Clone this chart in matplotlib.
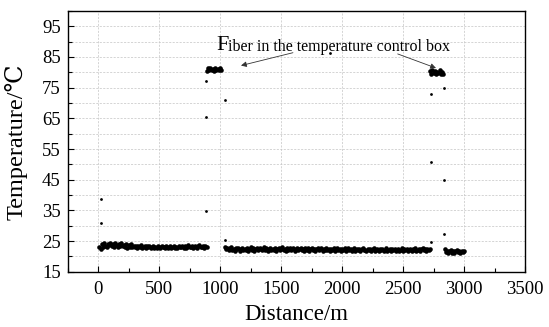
import numpy as np
import matplotlib.pyplot as plt
from matplotlib.ticker import MultipleLocator

# DTS trace, one sample every 10 m
sample_step = 10

# segment 1: normal fibre, 10 m .. 890 m
seg1_start = 10
seg1_temp = [23.2, 22.4, 23.9, 23.1, 24.2, 23.5, 22.9, 24.0, 23.6, 24.3,
             23.4, 24.1, 23.0, 24.4, 23.7, 23.2, 24.0, 23.5, 24.2, 23.3,
             23.8, 23.1, 23.9, 22.8, 23.6, 23.2, 23.9, 22.9, 23.4, 23.0,
             23.5, 22.7, 23.3, 22.9, 23.6, 22.8, 23.2, 23.4, 22.6, 23.3,
             22.9, 23.4, 22.7, 23.1, 23.5, 22.8, 23.2, 22.6, 23.3, 23.0,
             22.7, 23.4, 22.9, 23.2, 22.6, 23.3, 22.8, 23.1, 23.5, 22.7,
             23.0, 23.4, 22.8, 23.2, 22.7, 23.5, 22.9, 23.1, 23.4, 22.8,
             23.3, 22.7, 23.2, 23.6, 22.9, 23.1, 23.4, 22.8, 23.5, 23.0,
             22.8, 23.3, 23.6, 22.9, 23.2, 23.5, 22.8, 23.3, 23.1]

# segment 2: fibre in the temperature control box, 890 m .. 1010 m
seg2_start = 890
seg2_temp = [80.4, 81.3, 80.7, 81.5, 80.9, 81.2, 80.5, 81.4, 80.8, 81.1,
             80.6, 81.3, 80.9]

# segment 3: normal fibre, 1040 m .. 2720 m
seg3_start = 1040
seg3_temp = [22.9, 22.3, 22.8, 22.1, 22.6, 22.9, 22.2, 22.5, 21.9, 22.7,
             22.3, 22.6, 21.8, 22.4, 22.8, 22.1, 22.5, 22.2, 22.7, 21.9,
             22.4, 22.9, 22.2, 22.6, 21.8, 22.3, 22.7, 22.0, 22.5, 22.8,
             22.1, 22.4, 22.9, 22.2, 22.6, 21.9, 22.3, 22.7, 22.1, 22.5,
             22.2, 22.8, 21.9, 22.4, 22.6, 22.0, 22.5, 22.9, 22.2, 22.3,
             21.8, 22.6, 22.2, 22.7, 22.0, 22.4, 22.8, 21.9, 22.3, 22.6,
             22.1, 22.5, 22.8, 22.0, 22.4, 21.8, 22.6, 22.2, 22.7, 21.9,
             22.3, 22.6, 22.1, 22.5, 21.8, 22.4, 22.7, 22.0, 22.3, 22.6,
             21.9, 22.5, 22.2, 22.8, 22.0, 22.3, 21.7, 22.5, 22.1, 22.6,
             21.9, 22.4, 22.7, 22.0, 22.3, 21.8, 22.5, 22.2, 22.6, 21.9,
             22.3, 22.7, 22.0, 22.4, 21.8, 22.2, 22.6, 21.9, 22.4, 22.1,
             22.5, 21.8, 22.3, 22.6, 22.0, 22.2, 21.7, 22.5, 22.1, 22.4,
             21.9, 22.3, 22.6, 21.8, 22.2, 22.5, 21.9, 22.3, 22.0, 22.4,
             21.7, 22.2, 22.6, 21.9, 22.1, 22.5, 21.8, 22.3, 22.0, 22.4,
             21.7, 22.2, 22.5, 21.9, 22.1, 22.6, 21.8, 22.3, 22.0, 22.4,
             21.8, 22.2, 22.5, 21.9, 22.3, 22.0, 22.6, 21.8, 22.2, 22.4,
             21.9, 22.3, 22.6, 22.0, 22.4, 21.8, 22.5, 22.2, 22.4]

# segment 4: fibre in the temperature control box, 2720 m .. 2830 m
seg4_start = 2720
seg4_temp = [80.3, 79.5, 80.7, 79.8, 80.5, 79.3, 80.2, 79.9, 80.6, 79.6,
             80.1, 79.4]

# segment 5: fibre end, 2840 m .. 3000 m
seg5_start = 2840
seg5_temp = [22.3, 21.4, 21.9, 21.1, 21.7, 22.1, 21.2, 21.8, 21.0, 21.6,
             22.0, 21.3, 21.7, 21.1, 21.9, 21.4, 21.8]

# isolated points at the transitions
out_dist = [22, 25, 886, 886, 886, 1042, 1040, 1900, 2729, 2729, 2729, 2838, 2838, 2838]
out_temp = [38.8, 30.8, 34.7, 77.2, 65.4, 71.1, 25.3, 86.3, 72.9, 50.7, 24.8, 74.8, 44.9, 27.3]

x_ticks = [0, 500, 1000, 1500, 2000, 2500, 3000, 3500]
y_ticks = [15, 25, 35, 45, 55, 65, 75, 85, 95]

plt.rcParams['font.family'] = ['Liberation Serif', 'DejaVu Serif']

fig = plt.figure(figsize=(5.49, 3.27), dpi=100)
ax = fig.add_axes([0.1233, 0.1691, 0.8330, 0.7973])

segments = [(seg1_start, seg1_temp), (seg2_start, seg2_temp), (seg3_start, seg3_temp),
            (seg4_start, seg4_temp), (seg5_start, seg5_temp)]
for start, temps in segments:
    dist = start + sample_step * np.arange(len(temps))
    ax.plot(dist, temps, ls="none", marker="o", ms=3.3, mec="none", color="black")
ax.plot(out_dist, out_temp, ls="none", marker="o", ms=2.0, mec="none", color="black")

ax.set_xlim(-250, 3500)
ax.set_ylim(15, 100)
ax.set_xticks(x_ticks)
ax.set_yticks(y_ticks)
ax.xaxis.set_minor_locator(MultipleLocator(250))
ax.yaxis.set_minor_locator(MultipleLocator(5))
ax.tick_params(which="both", direction="in", top=False, right=False, labelsize=13.5, width=0.8)
ax.tick_params(which="major", length=4, pad=5)
ax.tick_params(which="minor", length=3)
ax.tick_params(axis="x", pad=7)

ax.grid(True, axis="x", which="major", ls=(0, (3, 2)), lw=0.5, color="#c4c4c4")
ax.grid(True, axis="y", which="both", ls=(0, (3, 2)), lw=0.5, color="#c4c4c4")
ax.set_axisbelow(True)
for sp in ax.spines.values():
    sp.set_linewidth(1.0)

ax.set_xlabel("Distance/m", fontsize=16.5)
ax.set_ylabel("Temperature/\u2103", fontsize=17.5)
ax.xaxis.set_label_coords(0.5, -0.122)
ax.yaxis.set_label_coords(-0.087, 0.5)

# annotation with enlarged first letter
t_f = ax.text(966, 87.4, "F", fontsize=16, va="baseline", ha="left")
ax.annotate("iber in the temperature control box", xy=(1, 0), xycoords=t_f,
            fontsize=11.5, va="bottom", ha="left")
arrow = dict(arrowstyle="-|>", lw=0.6, color="#333333", mutation_scale=8, shrinkA=0, shrinkB=0)
ax.annotate("", xy=(1171, 82.2), xytext=(1597, 86.4), arrowprops=arrow)
ax.annotate("", xy=(2770, 81.4), xytext=(2456, 86.0), arrowprops=arrow)

fig.savefig("out.png", dpi=100)
